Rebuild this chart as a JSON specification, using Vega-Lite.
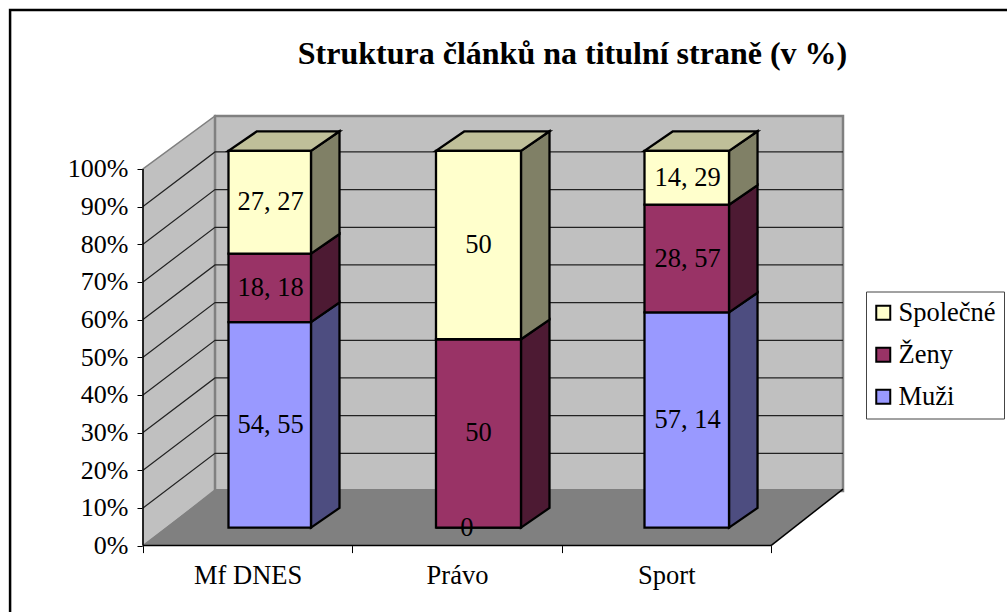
{
"$schema":"https://vega.github.io/schema/vega-lite/v6.json",
"autosize":{"type":"none"},
"padding":{"left":143,"top":116,"right":164,"bottom":66.4},
"width":700,"height":429.6,
"background":"white",
"title":{"text":"Struktura článků na titulní straně (v %)","font":"Liberation Serif","fontSize":32,"fontWeight":"bold","color":"black","anchor":"middle","frame":"group","dx":79.5,"offset":-62},
"config":{"view":{"stroke":null},"font":"Liberation Serif"},
"datasets":{
"frame":[{"left":-0.635,"right":4.19,"bottom":-25,"top":142.2}],
"wall":[{"pos":0,"low":0,"high":100},{"pos":0.344,"low":14.5,"high":114.04}],
"back":[{"left":0.344,"right":3.344,"bottom":14.5,"top":114.04}],
"floor":[{"level":0,"a":0,"b":3},{"level":15,"a":0.344,"b":3.344}],
"edge":[{"part":"front","pos":0,"level":0},{"part":"front","pos":3,"level":0},{"part":"side","pos":3,"level":0},{"part":"side","pos":3.344,"level":15},{"part":"upright","pos":0,"level":0},{"part":"upright","pos":0,"level":100}],
"grid":[
{"pct":10,"pos":0,"level":10},{"pct":10,"pos":0.344,"level":24.5},{"pct":10,"pos":3.344,"level":24.5},
{"pct":20,"pos":0,"level":20},{"pct":20,"pos":0.344,"level":34.5},{"pct":20,"pos":3.344,"level":34.5},
{"pct":30,"pos":0,"level":30},{"pct":30,"pos":0.344,"level":44.5},{"pct":30,"pos":3.344,"level":44.5},
{"pct":40,"pos":0,"level":40},{"pct":40,"pos":0.344,"level":54.5},{"pct":40,"pos":3.344,"level":54.5},
{"pct":50,"pos":0,"level":50},{"pct":50,"pos":0.344,"level":64.5},{"pct":50,"pos":3.344,"level":64.5},
{"pct":60,"pos":0,"level":60},{"pct":60,"pos":0.344,"level":74.5},{"pct":60,"pos":3.344,"level":74.5},
{"pct":70,"pos":0,"level":70},{"pct":70,"pos":0.344,"level":84.5},{"pct":70,"pos":3.344,"level":84.5},
{"pct":80,"pos":0,"level":80},{"pct":80,"pos":0.344,"level":94.5},{"pct":80,"pos":3.344,"level":94.5},
{"pct":90,"pos":0,"level":90},{"pct":90,"pos":0.344,"level":104.5},{"pct":90,"pos":3.344,"level":104.5}
],
"bars":[
{"paper":"Mf DNES","series":"Muži","label":"54, 55","start":0,"end":54.55,"mid":27.27,"left":0.4084,"right":0.8025,"center":0.6095},
{"paper":"Mf DNES","series":"Ženy","label":"18, 18","start":54.55,"end":72.73,"mid":63.64,"left":0.4084,"right":0.8025,"center":0.6095},
{"paper":"Mf DNES","series":"Společné","label":"27, 27","start":72.73,"end":100,"mid":86.36,"left":0.4084,"right":0.8025,"center":0.6095},
{"paper":"Právo","series":"Muži","label":"0","start":0,"end":0,"mid":0,"left":1.3997,"right":1.8057,"center":1.5467},
{"paper":"Právo","series":"Ženy","label":"50","start":0,"end":50,"mid":25,"left":1.3997,"right":1.8057,"center":1.6027},
{"paper":"Právo","series":"Společné","label":"50","start":50,"end":100,"mid":75,"left":1.3997,"right":1.8057,"center":1.6027},
{"paper":"Sport","series":"Muži","label":"57, 14","start":0,"end":57.14,"mid":28.57,"left":2.3957,"right":2.7995,"center":2.6016},
{"paper":"Sport","series":"Ženy","label":"28, 57","start":57.14,"end":85.71,"mid":71.43,"left":2.3957,"right":2.7995,"center":2.6016},
{"paper":"Sport","series":"Společné","label":"14, 29","start":85.71,"end":100,"mid":92.86,"left":2.3957,"right":2.7995,"center":2.6016}
],
"sides":[
{"paper":"Mf DNES","series":"Muži","pos":0.8025,"low":0,"high":54.55},{"paper":"Mf DNES","series":"Muži","pos":0.9387,"low":5.2,"high":59.75},
{"paper":"Mf DNES","series":"Ženy","pos":0.8025,"low":54.55,"high":72.73},{"paper":"Mf DNES","series":"Ženy","pos":0.9387,"low":59.75,"high":77.93},
{"paper":"Mf DNES","series":"Společné","pos":0.8025,"low":72.73,"high":100},{"paper":"Mf DNES","series":"Společné","pos":0.9387,"low":77.93,"high":105.2},
{"paper":"Právo","series":"Ženy","pos":1.8057,"low":0,"high":50},{"paper":"Právo","series":"Ženy","pos":1.9419,"low":5.2,"high":55.2},
{"paper":"Právo","series":"Společné","pos":1.8057,"low":50,"high":100},{"paper":"Právo","series":"Společné","pos":1.9419,"low":55.2,"high":105.2},
{"paper":"Sport","series":"Muži","pos":2.7995,"low":0,"high":57.14},{"paper":"Sport","series":"Muži","pos":2.9357,"low":5.2,"high":62.34},
{"paper":"Sport","series":"Ženy","pos":2.7995,"low":57.14,"high":85.71},{"paper":"Sport","series":"Ženy","pos":2.9357,"low":62.34,"high":90.91},
{"paper":"Sport","series":"Společné","pos":2.7995,"low":85.71,"high":100},{"paper":"Sport","series":"Společné","pos":2.9357,"low":90.91,"high":105.2}
],
"tops":[
{"paper":"Mf DNES","level":100,"a":0.4084,"b":0.8025},{"paper":"Mf DNES","level":105.2,"a":0.5446,"b":0.9387},
{"paper":"Právo","level":100,"a":1.3997,"b":1.8057},{"paper":"Právo","level":105.2,"a":1.5359,"b":1.9419},
{"paper":"Sport","level":100,"a":2.3957,"b":2.7995},{"paper":"Sport","level":105.2,"a":2.5319,"b":2.9357}
]
},
"resolve":{"scale":{"color":"independent"}},
"layer":[
{"data":{"name":"frame"},"mark":{"type":"rect","fillOpacity":0,"stroke":"black","strokeWidth":2.5,"clip":false},
 "encoding":{
  "x":{"field":"left","type":"quantitative","title":null,"scale":{"domain":[0,3.344],"nice":false,"zero":false},
   "axis":{"values":[0,0.5,1,1.5,2,2.5,3],"domain":false,"grid":false,"tickSize":7,"tickColor":"black","tickOpacity":{"condition":{"test":"datum.value % 1 == 0","value":1},"value":0},"labelExpr":"datum.value==0.5?'Mf DNES':datum.value==1.5?'Právo':datum.value==2.5?'Sport':''","labelFont":"Liberation Serif","labelFontSize":26.5,"labelColor":"black","labelPadding":10,"labelBaseline":"top","labelFlush":false,"labelOverlap":false,"title":null}},
  "x2":{"field":"right"},
  "y":{"field":"bottom","type":"quantitative","title":null,"scale":{"domain":[0,114.04],"nice":false,"zero":false},
   "axis":{"values":[0,10,20,30,40,50,60,70,80,90,100],"domain":false,"grid":false,"tickSize":6,"tickColor":"black","labelExpr":"datum.value+'%'","labelFont":"Liberation Serif","labelFontSize":26,"labelColor":"black","labelPadding":9,"title":null}},
  "y2":{"field":"top"}}},
{"data":{"name":"wall"},"mark":{"type":"area","fill":"#C0C0C0","stroke":"#808080","strokeWidth":1.5,"clip":false},
 "encoding":{"x":{"field":"pos","type":"quantitative","title":null,"scale":{"domain":[0,3.344],"nice":false,"zero":false}},"y":{"field":"low","type":"quantitative","title":null,"scale":{"domain":[0,114.04],"nice":false,"zero":false}},"y2":{"field":"high"}}},
{"data":{"name":"back"},"mark":{"type":"rect","fill":"#C0C0C0","stroke":"#808080","strokeWidth":2.5,"clip":false},
 "encoding":{"x":{"field":"left","type":"quantitative","title":null,"scale":{"domain":[0,3.344],"nice":false,"zero":false}},"x2":{"field":"right"},"y":{"field":"bottom","type":"quantitative","title":null,"scale":{"domain":[0,114.04],"nice":false,"zero":false}},"y2":{"field":"top"}}},
{"data":{"name":"grid"},"mark":{"type":"line","stroke":"#222222","strokeWidth":1.2,"clip":false},
 "encoding":{"x":{"field":"pos","type":"quantitative","title":null,"scale":{"domain":[0,3.344],"nice":false,"zero":false}},"y":{"field":"level","type":"quantitative","title":null,"scale":{"domain":[0,114.04],"nice":false,"zero":false}},"detail":{"field":"pct"}}},
{"data":{"name":"floor"},"mark":{"type":"area","orient":"horizontal","fill":"#808080","clip":false},
 "encoding":{"y":{"field":"level","type":"quantitative","title":null,"scale":{"domain":[0,114.04],"nice":false,"zero":false}},"x":{"field":"a","type":"quantitative","title":null,"scale":{"domain":[0,3.344],"nice":false,"zero":false}},"x2":{"field":"b"}}},
{"data":{"name":"edge"},"mark":{"type":"line","stroke":"black","strokeWidth":1.5,"clip":false},
 "encoding":{"x":{"field":"pos","type":"quantitative","title":null,"scale":{"domain":[0,3.344],"nice":false,"zero":false}},"y":{"field":"level","type":"quantitative","title":null,"scale":{"domain":[0,114.04],"nice":false,"zero":false}},"detail":{"field":"part"}}},
{"data":{"name":"sides"},"mark":{"type":"area","stroke":"black","strokeWidth":2.3,"clip":false,"yOffset":-18,"y2Offset":-18},
 "encoding":{"x":{"field":"pos","type":"quantitative","title":null,"scale":{"domain":[0,3.344],"nice":false,"zero":false}},"y":{"field":"low","type":"quantitative","title":null,"scale":{"domain":[0,114.04],"nice":false,"zero":false}},"y2":{"field":"high"},"detail":{"field":"paper"},
  "color":{"field":"series","type":"nominal","legend":null,"scale":{"domain":["Společné","Ženy","Muži"],"range":["#808066","#4D1A33","#4D4D80"]}}}},
{"data":{"name":"tops"},"mark":{"type":"area","orient":"horizontal","fill":"#BFBF99","stroke":"black","strokeWidth":2.3,"clip":false,"yOffset":-18},
 "encoding":{"y":{"field":"level","type":"quantitative","title":null,"scale":{"domain":[0,114.04],"nice":false,"zero":false}},"x":{"field":"a","type":"quantitative","title":null,"scale":{"domain":[0,3.344],"nice":false,"zero":false}},"x2":{"field":"b"},"detail":{"field":"paper"}}},
{"data":{"name":"bars"},"mark":{"type":"rect","stroke":"black","strokeWidth":2.3,"clip":false,"yOffset":-18,"y2Offset":-18},
 "encoding":{"x":{"field":"left","type":"quantitative","title":null,"scale":{"domain":[0,3.344],"nice":false,"zero":false}},"x2":{"field":"right"},"y":{"field":"start","type":"quantitative","title":null,"scale":{"domain":[0,114.04],"nice":false,"zero":false}},"y2":{"field":"end"},
  "color":{"field":"series","type":"nominal","scale":{"domain":["Společné","Ženy","Muži"],"range":["#FFFFCC","#993366","#9999FF"]},
   "legend":{"title":null,"orient":"none","legendX":723,"legendY":175.5,"symbolType":"square","symbolSize":196,"symbolStrokeColor":"black","symbolStrokeWidth":2,"symbolOffset":-4,"labelFont":"Liberation Serif","labelFontSize":26.5,"labelColor":"black","labelOffset":2,"rowPadding":15,"padding":8,"strokeColor":"#444444","fillColor":"white","symbolOpacity":1}}}},
{"data":{"name":"bars"},"mark":{"type":"text","font":"Liberation Serif","fontSize":26.5,"color":"black","dy":-18,"clip":false},
 "encoding":{"x":{"field":"center","type":"quantitative","title":null,"scale":{"domain":[0,3.344],"nice":false,"zero":false}},"y":{"field":"mid","type":"quantitative","title":null,"scale":{"domain":[0,114.04],"nice":false,"zero":false}},"text":{"field":"label"}}}
]
}
